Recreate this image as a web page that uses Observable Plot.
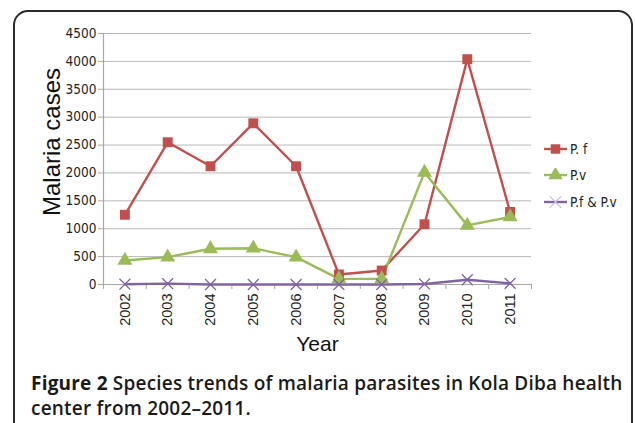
<!DOCTYPE html>
<html>
<head>
<meta charset="utf-8">
<script src="https://cdn.jsdelivr.net/npm/d3@7"></script>
<script src="https://cdn.jsdelivr.net/npm/@observablehq/plot@0.6"></script>
<style>
  html, body { margin: 0; padding: 0; background: #fff; }
  #wrap { position: relative; width: 635px; height: 423px; overflow: hidden; }
  #box { position: absolute; left: 13px; top: 10px; width: 620px; height: 460px;
         border: 2px solid #2b2b2b; border-radius: 15px; box-sizing: border-box; }
  #chart { position: absolute; left: 0; top: 0; }
  #legend { position: absolute; left: 544px; top: 135.5px; font-family: "Liberation Sans Narrow", "DejaVu Sans Condensed", sans-serif; font-size: 13.5px; color: #222; }
  .item { display: flex; align-items: center; height: 26.5px; }
  .item svg { margin-right: 3px; }
  #caption { position: absolute; left: 31px; top: 371px; width: 600px; font-family: "Open Sans", sans-serif; font-weight: 600; font-size: 19px; letter-spacing: 0.2px; line-height: 25px; color: #1a1a1a; white-space: nowrap; }
  #caption b { font-weight: 700; }
</style>
</head>
<body>
<div id="wrap">
  <div id="box"></div>
  <div id="chart"></div>
  <div id="legend"></div>
  <div id="caption"><b>Figure 2</b> Species trends of malaria parasites in Kola Diba health<br>center from 2002–2011.</div>
</div>
<script>
const years = [2002, 2003, 2004, 2005, 2006, 2007, 2008, 2009, 2010, 2011];
const pf   = [1250, 2550, 2120, 2890, 2120, 180, 250, 1080, 4040, 1300];
const pv   = [430, 490, 640, 650, 490, 100, 100, 2010, 1060, 1210];
const pfpv = [5, 15, 0, 0, 0, 0, 0, 10, 85, 20];
const seriesNames = ["P. f", "P.v", "P.f & P.v"];
const seriesValues = [pf, pv, pfpv];
const colors = ["#C0504D", "#9BBB59", "#8064A2"];
const symbols = ["square", "triangle", "times"];
const yTicks = [0, 500, 1000, 1500, 2000, 2500, 3000, 3500, 4000, 4500];

const data = [];
seriesNames.forEach((s, i) => years.forEach((y, j) => data.push({series: s, year: y, value: seriesValues[i][j]})));
const bounds = years.map(y => y - 0.5).concat([years[years.length - 1] + 0.5]);

const narrow = "'Liberation Sans Narrow', 'DejaVu Sans Condensed', sans-serif";

const plot = Plot.plot({
  width: 635,
  height: 360,
  marginLeft: 103,
  marginRight: 104,
  marginTop: 33,
  marginBottom: 76,
  style: {background: "transparent", overflow: "visible"},
  x: {domain: [bounds[0], bounds[bounds.length - 1]]},
  y: {domain: [0, 4500]},
  color: {domain: seriesNames, range: colors},
  symbol: {domain: seriesNames, range: symbols},
  marks: [
    Plot.gridY(yTicks.slice(1), {stroke: "#b8b8b8", strokeOpacity: 1, strokeWidth: 1}),
    Plot.ruleY([0], {stroke: "#a8a8a8", strokeWidth: 1.2}),
    Plot.ruleX([bounds[0]], {stroke: "#a8a8a8", strokeWidth: 1.2}),
    Plot.axisY(yTicks, {tickSize: 5, tickPadding: 2, stroke: "#a8a8a8", tickFormat: d => String(d), fontSize: 13.5, fontFamily: narrow, fill: "#222", label: null}),
    Plot.axisX(bounds, {tickSize: 5, stroke: "#a8a8a8", tickFormat: () => "", label: null}),
    Plot.axisX(years, {tickSize: 0, tickPadding: 9, tickRotate: -90, tickFormat: d => String(d), fontSize: 14.5, fontFamily: "'Liberation Sans', sans-serif", fill: "#222", label: null}),
    Plot.line(data, {x: "year", y: "value", z: "series", stroke: "series", strokeWidth: 2.4}),
    Plot.dot(data.filter(d => d.series !== "P.f & P.v"), {x: "year", y: "value", symbol: "series", fill: "series", r: 5.6, stroke: "none"}),
    Plot.dot(data.filter(d => d.series === "P.f & P.v"), {x: "year", y: "value", symbol: "series", stroke: "series", r: 5, strokeWidth: 1.3}),
    Plot.text(["Malaria cases"], {frameAnchor: "left", textAnchor: "middle", rotate: -90, dx: -51, dy: -17, fontSize: 24, fontFamily: "'Liberation Sans', sans-serif", fill: "#111"}),
    Plot.text(["Year"], {frameAnchor: "bottom", dy: 66, fontSize: 21, fontFamily: "'Liberation Sans', sans-serif", fill: "#111"})
  ]
});
document.getElementById("chart").appendChild(plot);

const legend = d3.select("#legend");
seriesNames.forEach((s, i) => {
  const item = legend.append("div").attr("class", "item");
  const svg = item.append("svg").attr("width", 23).attr("height", 14);
  svg.append("line").attr("x1", 0).attr("x2", 23).attr("y1", 7).attr("y2", 7).attr("stroke", colors[i]).attr("stroke-width", 2.4);
  const sym = {square: d3.symbolSquare, triangle: d3.symbolTriangle, times: d3.symbolTimes}[symbols[i]];
  const p = svg.append("path").attr("transform", "translate(11.5,7)").attr("d", d3.symbol(sym, 90)());
  if (symbols[i] === "times") p.attr("fill", "none").attr("stroke", "#c9bde0").attr("stroke-width", 1.2);
  else p.attr("fill", colors[i]);
  item.append("span").text(s);
});
</script>
</body>
</html>
